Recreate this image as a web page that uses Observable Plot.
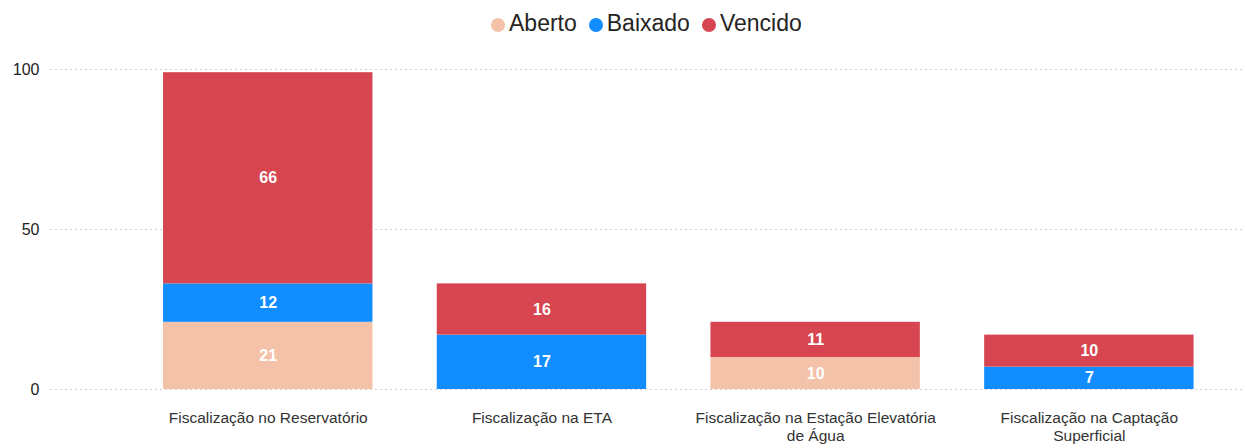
<!DOCTYPE html>
<html><head><meta charset="utf-8">
<script src="https://cdn.jsdelivr.net/npm/d3@7"></script>
<script src="https://cdn.jsdelivr.net/npm/@observablehq/plot@0.6"></script>
<style>
body{margin:0;background:#fff;font-family:"Liberation Sans",Arial,sans-serif;}
#wrap{position:relative;width:1247px;height:448px;overflow:hidden;}
#legend{position:absolute;left:491px;top:5px;height:36px;display:flex;align-items:center;font-size:23px;color:#252423;}
.item{display:flex;align-items:center;margin-right:12px;}
.dot{width:14px;height:14px;border-radius:50%;margin-right:4px;margin-top:3px;}
#chart{position:absolute;left:0;top:45px;}
</style></head><body>
<div id="wrap"><div id="legend"></div><div id="chart"></div></div>
<script>
const categories = ["Fiscalização no Reservatório","Fiscalização na ETA","Fiscalização na Estação Elevatória de Água","Fiscalização na Captação Superficial"];
const tickLabels = ["Fiscalização no Reservatório","Fiscalização na ETA","Fiscalização na Estação Elevatória\nde Água","Fiscalização na Captação\nSuperficial"];
const statuses = ["Aberto","Baixado","Vencido"];
const colors = ["#F4C1A9","#118DFF","#D64550"];
const aberto = [21, 0, 10, 0];
const baixado = [12, 17, 0, 7];
const vencido = [66, 16, 11, 10];
const yTicks = [0, 50, 100];

const legend = document.getElementById("legend");
statuses.forEach((s, i) => {
  const it = document.createElement("div"); it.className = "item";
  const d = document.createElement("span"); d.className = "dot"; d.style.background = colors[i];
  const t = document.createElement("span"); t.textContent = s;
  it.appendChild(d); it.appendChild(t); legend.appendChild(it);
});

const rows = [];
categories.forEach((c, i) => {
  [aberto, baixado, vencido].forEach((arr, j) => {
    if (arr[i] > 0) rows.push({category: c, status: statuses[j], value: arr[i]});
  });
});

const chart = Plot.plot({
  width: 1247, height: 403,
  marginTop: 24, marginBottom: 59, marginLeft: 50, marginRight: 5,
  style: {fontFamily: '"Liberation Sans", Arial, sans-serif', background: "transparent"},
  x: {domain: categories, paddingInner: 0.235, paddingOuter: 0.295, align: 0.7, round: false, label: null},
  y: {domain: [0, 100], label: null},
  color: {domain: statuses, range: colors},
  marks: [
    Plot.gridY(yTicks, {stroke: "#cfcfcf", strokeOpacity: 1, strokeDasharray: "2,3", strokeWidth: 1}),
    Plot.axisY(yTicks, {tickSize: 0, tickPadding: 11, fontSize: 16, fill: "#222", label: null}),
    Plot.axisX({tickSize: 0, tickPadding: 21, fontSize: 15.5, fill: "#333", lineHeight: 1.15, label: null,
      tickFormat: c => tickLabels[categories.indexOf(c)]}),
    Plot.barY(rows, Plot.stackY({x: "category", y: "value", fill: "status", order: statuses})),
    Plot.text(rows, Plot.stackY({x: "category", y: "value", z: "status", order: statuses,
      text: d => String(d.value), fill: "white", fontWeight: "bold", fontSize: 16}))
  ]
});
document.getElementById("chart").appendChild(chart);
</script>
</body></html>
